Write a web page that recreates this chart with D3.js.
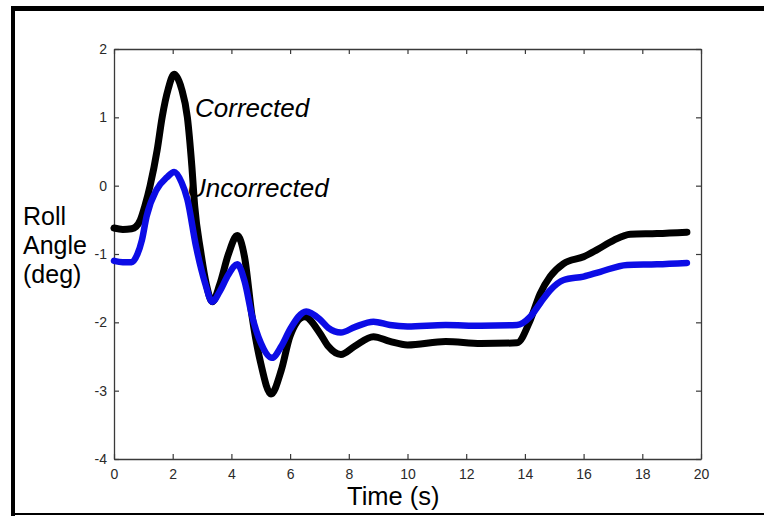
<!DOCTYPE html>
<html>
<head>
<meta charset="utf-8">
<script src="https://cdn.jsdelivr.net/npm/d3@7"></script>
<style>
  html, body { margin: 0; padding: 0; background: #fff; }
  svg { display: block; }
  text { font-family: "Liberation Sans", Arial, Helvetica, sans-serif; }
</style>
</head>
<body>
<svg id="chart" width="764" height="516"></svg>
<script>
// Roll angle response over time, corrected vs uncorrected
const correctedTime = [0, 0.3, 0.6, 0.75, 0.9, 1.05, 1.23, 1.47, 1.64, 1.85, 2.05, 2.3, 2.5, 2.65, 2.75, 2.95, 3.15, 3.35, 3.6, 3.9, 4.2, 4.45, 4.7, 5.0, 5.35, 5.7, 6.0, 6.5, 7.0, 7.3, 7.73, 8.2, 8.84, 9.4, 10.0, 11.3, 12.5, 13.73, 14.18, 14.52, 14.86, 15.32, 16.0, 16.45, 17.02, 17.59, 18.5, 19.52];
const correctedRoll = [-0.62, -0.64, -0.63, -0.6, -0.5, -0.3, 0.0, 0.52, 1.0, 1.42, 1.63, 1.42, 1.0, 0.3, -0.3, -0.95, -1.45, -1.7, -1.45, -1.0, -0.73, -1.05, -1.9, -2.6, -3.05, -2.7, -2.2, -1.92, -2.15, -2.35, -2.47, -2.35, -2.21, -2.28, -2.33, -2.28, -2.31, -2.30, -1.97, -1.58, -1.33, -1.14, -1.04, -0.94, -0.8, -0.71, -0.70, -0.68];

const uncorrectedTime = [0, 0.3, 0.6, 0.8, 0.95, 1.11, 1.45, 1.8, 2.05, 2.3, 2.5, 2.8, 3.1, 3.35, 3.6, 3.9, 4.2, 4.45, 4.7, 5.0, 5.38, 5.7, 6.0, 6.55, 7.0, 7.3, 7.73, 8.2, 8.84, 9.4, 10.0, 11.3, 12.5, 13.73, 14.18, 14.52, 14.86, 15.32, 16.0, 16.57, 17.48, 18.5, 19.52];
const uncorrectedRoll = [-1.10, -1.12, -1.12, -1.0, -0.8, -0.45, -0.06, 0.12, 0.2, 0.05, -0.2, -0.9, -1.42, -1.7, -1.55, -1.3, -1.15, -1.4, -1.9, -2.3, -2.52, -2.35, -2.1, -1.84, -1.95, -2.08, -2.15, -2.07, -1.99, -2.04, -2.06, -2.04, -2.05, -2.04, -1.92, -1.72, -1.53, -1.38, -1.33, -1.26, -1.16, -1.15, -1.13];

const xTicks = [0, 2, 4, 6, 8, 10, 12, 14, 16, 18, 20];
const yTicks = [-4, -3, -2, -1, 0, 1, 2];

const svg = d3.select("#chart");

// plot frame
const plotLeft = 114, plotRight = 701, plotTop = 49, plotBottom = 459;
const x = d3.scaleLinear().domain([0, 20]).range([plotLeft, plotRight]);
const y = d3.scaleLinear().domain([-4, 2]).range([plotBottom, plotTop]);

// outer figure border (top, left, bottom)
svg.append("rect").attr("x", 11).attr("y", 6).attr("width", 760).attr("height", 5).attr("fill", "#000");
svg.append("rect").attr("x", 11).attr("y", 6).attr("width", 4).attr("height", 510).attr("fill", "#000");
svg.append("rect").attr("x", 11).attr("y", 513).attr("width", 760).attr("height", 2).attr("fill", "#000");

// axes box with inward ticks on all four sides
const axisColor = "#3a3a3a";
const tickLen = 5;
const tickFont = 14;
const plainNumber = d => String(d);   // ASCII hyphen for negatives

const bottomAxis = d3.axisBottom(x).tickValues(xTicks).tickSizeInner(-tickLen).tickSizeOuter(0).tickPadding(10).tickFormat(plainNumber);
const topAxis = d3.axisTop(x).tickValues(xTicks).tickSizeInner(-tickLen).tickSizeOuter(0).tickFormat("");
const leftAxis = d3.axisLeft(y).tickValues(yTicks).tickSizeInner(-tickLen).tickSizeOuter(0).tickPadding(7).tickFormat(plainNumber);
const rightAxis = d3.axisRight(y).tickValues(yTicks).tickSizeInner(-tickLen).tickSizeOuter(0).tickFormat("");

function styleAxis(g) {
  g.select(".domain").attr("stroke", axisColor).attr("stroke-width", 1.3);
  g.selectAll(".tick line").attr("stroke", axisColor).attr("stroke-width", 1.2);
  g.selectAll(".tick text")
    .attr("fill", "#2a2a2a")
    .style("font-size", tickFont + "px")
    .style("font-family", "'Liberation Sans', Arial, sans-serif");
}

svg.append("g").attr("transform", `translate(0,${plotBottom})`).call(bottomAxis).call(styleAxis);
svg.append("g").attr("transform", `translate(0,${plotTop})`).call(topAxis).call(styleAxis);
svg.append("g").attr("transform", `translate(${plotLeft},0)`).call(leftAxis).call(styleAxis);
svg.append("g").attr("transform", `translate(${plotRight},0)`).call(rightAxis).call(styleAxis);

// data lines
const line = d3.line()
  .x(d => x(d[0]))
  .y(d => y(d[1]))
  .curve(d3.curveMonotoneX);

const corrected = correctedTime.map((t, i) => [t, correctedRoll[i]]);
const uncorrected = uncorrectedTime.map((t, i) => [t, uncorrectedRoll[i]]);

svg.append("path")
  .datum(corrected)
  .attr("d", line)
  .attr("fill", "none")
  .attr("stroke", "#000")
  .attr("stroke-width", 7)
  .attr("stroke-linejoin", "round")
  .attr("stroke-linecap", "round");

svg.append("path")
  .datum(uncorrected)
  .attr("d", line)
  .attr("fill", "none")
  .attr("stroke", "#0c0ce6")
  .attr("stroke-width", 6.5)
  .attr("stroke-linejoin", "round")
  .attr("stroke-linecap", "round");

// series labels
svg.append("text").attr("x", 195).attr("y", 117)
  .style("font-size", "26px").style("font-style", "italic").attr("fill", "#000")
  .text("Corrected");
svg.append("text").attr("x", 187).attr("y", 197)
  .style("font-size", "26px").style("font-style", "italic").attr("fill", "#000")
  .text("Uncorrected");

// axis titles
const yTitle = svg.append("text").attr("x", 23).attr("y", 225)
  .style("font-size", "25px").attr("fill", "#000");
yTitle.append("tspan").attr("x", 23).attr("y", 225).text("Roll");
yTitle.append("tspan").attr("x", 23).attr("y", 254).text("Angle");
yTitle.append("tspan").attr("x", 23).attr("y", 283).text("(deg)");

svg.append("text").attr("x", 347).attr("y", 505)
  .style("font-size", "25.5px").attr("fill", "#000")
  .text("Time (s)");
</script>
</body>
</html>
